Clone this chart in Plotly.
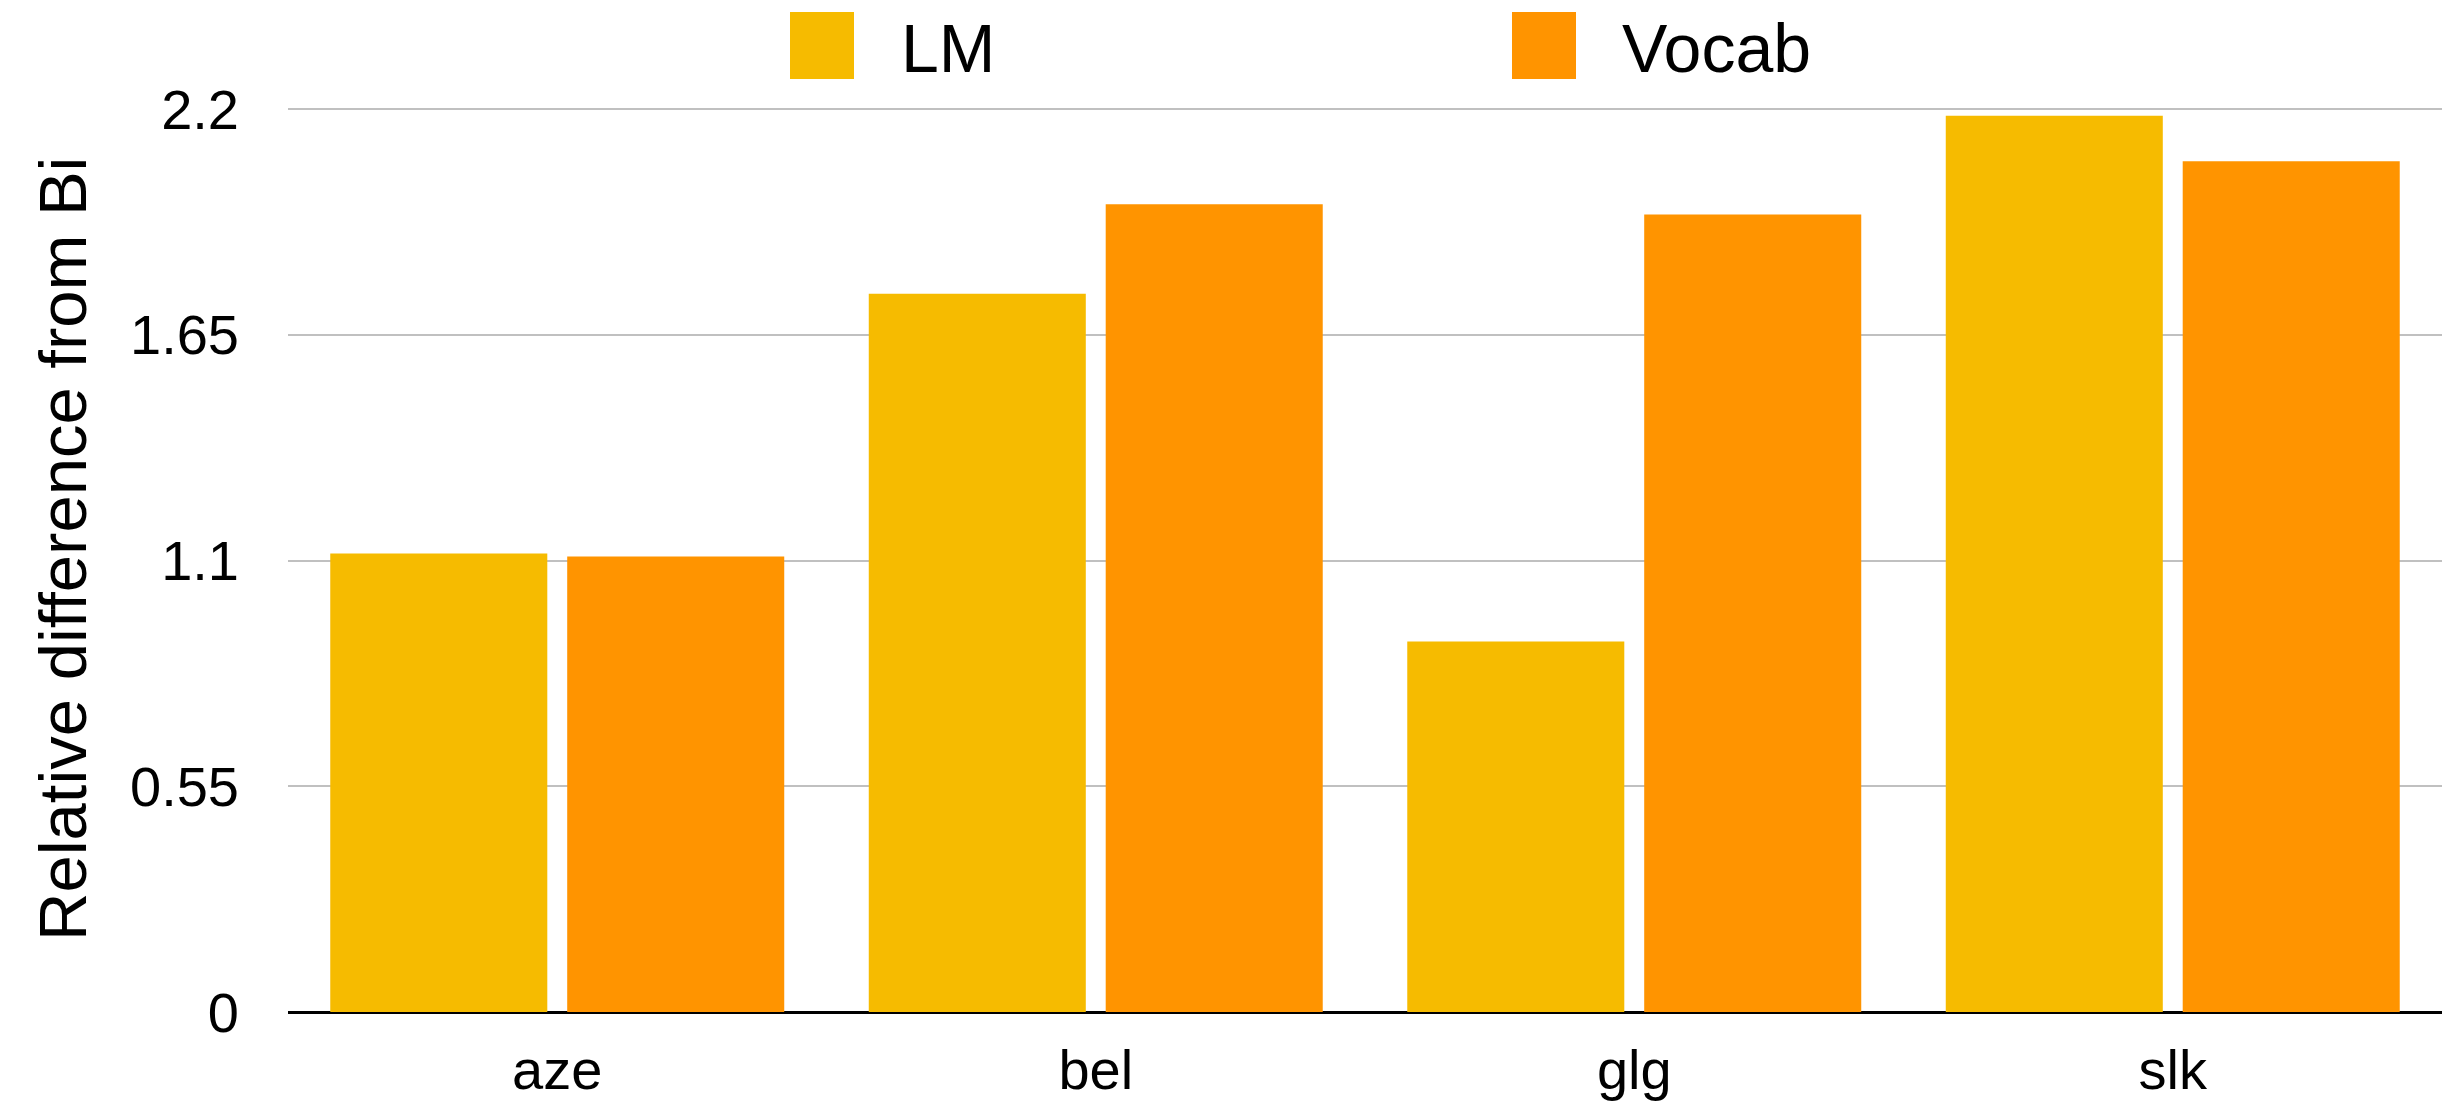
import plotly.graph_objects as go

# Language codes and the two series plotted against them
languages = ["aze", "bel", "glg", "slk"]
lm_values = [1.117, 1.75, 0.903, 2.184]
vocab_values = [1.11, 1.968, 1.943, 2.073]

y_tick_values = [0, 0.55, 1.1, 1.65, 2.2]
y_tick_labels = ["0", "0.55", "1.1", "1.65", "2.2"]

series_names = ["LM", "Vocab"]
series_colors = ["#F6BB00", "#FF9400"]

FONT = "Liberation Sans, Arial, Helvetica, sans-serif"
W, H = 2442, 1111
M_L, M_R, M_T, M_B = 288, 0, 105, 99
plot_w = W - M_L - M_R
plot_h = H - M_T - M_B


def px_x(p):
    return (p - M_L) / plot_w


def px_y(p):
    return (H - M_B - p) / plot_h


fig = go.Figure()
for name, vals, col in zip(series_names, [lm_values, vocab_values], series_colors):
    fig.add_trace(go.Bar(
        x=languages, y=vals, name=name,
        marker=dict(color=col, line=dict(width=0)),
        showlegend=False,
    ))

# Legend drawn as large colour swatches with labels above the plot
legend_items = [
    (series_names[0], series_colors[0], 790, 899),
    (series_names[1], series_colors[1], 1512, 1620),
]
shapes = []
annotations = []
for name, col, sx, tx in legend_items:
    shapes.append(dict(
        type="rect", xref="paper", yref="paper",
        x0=px_x(sx), x1=px_x(sx + 64), y0=px_y(79), y1=px_y(12),
        fillcolor=col, line=dict(width=0), layer="above",
    ))
    annotations.append(dict(
        text=name, xref="paper", yref="paper",
        x=px_x(tx), y=px_y(48), xanchor="left", yanchor="middle",
        showarrow=False, font=dict(family=FONT, size=68, color="black"),
    ))

# Y axis title
annotations.append(dict(
    text="Relative difference from Bi", xref="paper", yref="paper",
    x=px_x(62), y=px_y(549), xanchor="center", yanchor="middle",
    textangle=-90, showarrow=False,
    font=dict(family=FONT, size=67, color="black"),
))

fig.update_layout(
    width=W, height=H,
    margin=dict(l=M_L, r=M_R, t=M_T, b=M_B, pad=0),
    paper_bgcolor="white", plot_bgcolor="white",
    barmode="group", bargap=0.12, bargroupgap=0.084,
    font=dict(family=FONT, color="black"),
    shapes=shapes, annotations=annotations,
    xaxis=dict(
        showgrid=False, showline=False, zeroline=False, ticks="",
        tickfont=dict(family=FONT, size=56, color="black"),
        ticklabelstandoff=20, automargin=False,
    ),
    yaxis=dict(
        range=[0, 2.21], tickvals=y_tick_values, ticktext=y_tick_labels,
        showgrid=True, gridcolor="#C0C0C0", gridwidth=2,
        zeroline=True, zerolinecolor="black", zerolinewidth=3,
        showline=False, ticks="",
        tickfont=dict(family=FONT, size=56, color="black"),
        ticklabelstandoff=48, automargin=False,
    ),
)

fig.write_html("out.html")
